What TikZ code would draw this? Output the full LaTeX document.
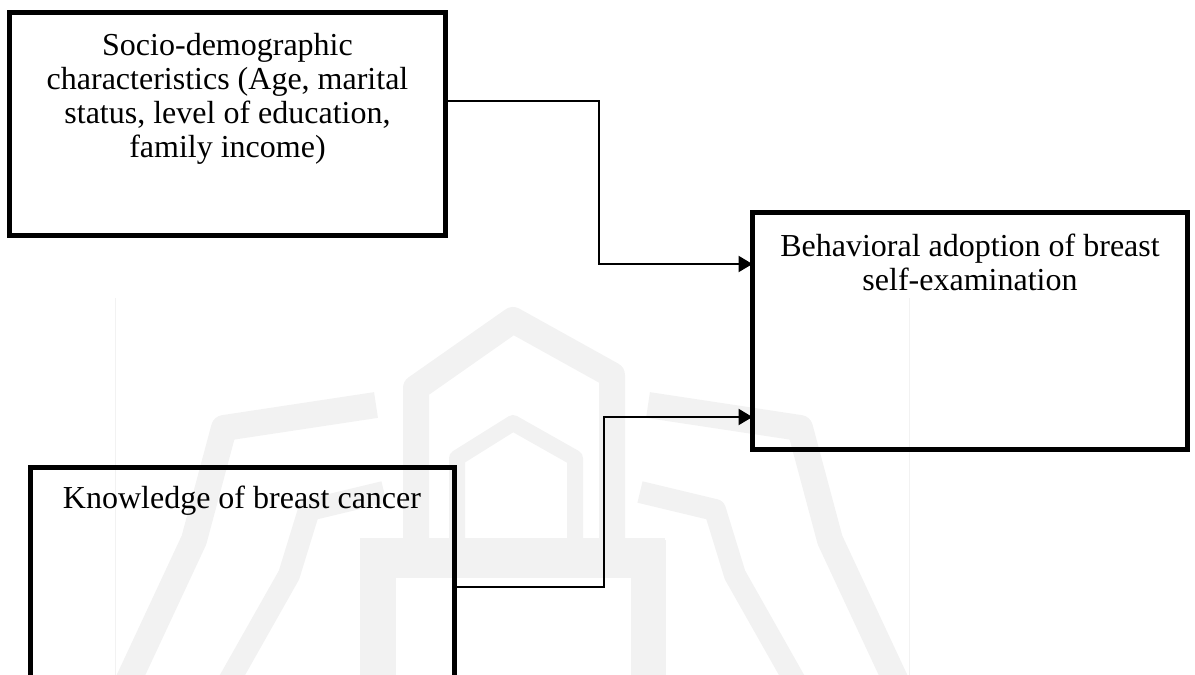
\documentclass[tikz,border=0pt]{standalone}
\usepackage{fontspec}
\setmainfont{Liberation Serif}
\usetikzlibrary{arrows.meta}
\tikzset{
  box/.style={draw=black, line width=5pt, rectangle, inner sep=0pt, outer sep=0pt, anchor=north west},
  lbl/.style={font=\fontsize{32}{34}\selectfont, align=center, inner sep=0pt, anchor=base},
  conn/.style={draw=black, line width=2.3pt},
  arr/.style={conn, -{Triangle[length=14pt,width=16pt]}},
  wm/.style={draw=black!5, line join=round, line cap=butt},
}
\begin{document}
\begin{tikzpicture}[x=1pt, y=-1pt]
\useasboundingbox (0,0) rectangle (1195,675);
\clip (0,0) rectangle (1195,675);
% faint watermark
\draw[wm, line width=1pt] (115,298) -- (115,675);
\draw[wm, line width=1pt] (909,298) -- (909,675);
\draw[wm, line width=26pt] (416,548) -- (416,388) -- (513,320) -- (612,375) -- (612,548);
\draw[wm, line width=16pt] (457,548) -- (457,458) -- (513,423) -- (575,458) -- (575,548);
\draw[wm, line width=40pt] (360,558) -- (665,558);
\draw[wm, line width=36pt] (378,540) -- (378,680);
\draw[wm, line width=35pt] (648,540) -- (648,680);
\draw[wm, line width=26pt] (648,405) -- (800,428) -- (830,540) -- (900,690);
\draw[wm, line width=22pt] (640,492) -- (715,510) -- (735,575) -- (800,690);
\draw[wm, line width=26pt] (376,405) -- (224,428) -- (194,540) -- (124,690);
\draw[wm, line width=22pt] (384,492) -- (309,510) -- (289,575) -- (224,690);
% boxes
\node[box, minimum width=436pt, minimum height=223pt] (socio) at (9.5,12) {};
\node[box, minimum width=435pt, minimum height=237pt] (behav) at (752.5,212.5) {};
\node[box, minimum width=424.5pt, minimum height=260pt] (know) at (30,467.5) {};
% texts (base anchor = baseline of last line)
\node[lbl] (sociotext) at (227.5,157) {Socio-demographic\\characteristics (Age, marital\\status, level of education,\\family income)};
\node[lbl] (behavtext) at (970,290) {Behavioral adoption of breast\\self-examination};
\node[lbl] (knowtext) at (242,508) {Knowledge of breast cancer};
% connectors
\draw[arr] ([yshift=-89pt]socio.north east) -- ++(153.5,0) |- ([yshift=-51.5pt]behav.north west);
\draw[arr] ([yshift=-119.5pt]know.north east) -- ++(149.5,0) |- ([yshift=-204.5pt]behav.north west);
\end{tikzpicture}
\end{document}
